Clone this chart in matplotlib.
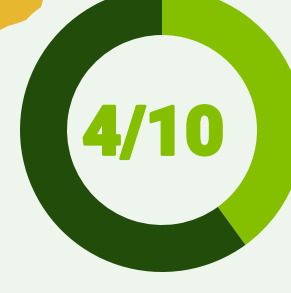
import matplotlib
matplotlib.use('Agg')
import matplotlib.pyplot as plt
import matplotlib.patheffects as pe
from matplotlib.patches import Polygon

values = [4, 6]
colors = ['#85C000', '#224C0A']
label = '4/10'

bg = '#EEF5EC'

fig = plt.figure(figsize=(2.91, 2.93), dpi=100)
fig.patch.set_facecolor(bg)
ax = fig.add_axes([0, 0, 1, 1])
ax.set_facecolor(bg)

# yellow blob in the corner
blob = Polygon([(0, 293), (43, 293), (41, 286), (33, 280), (26, 273), (18, 270),
                (8, 267), (0, 263)], closed=True, facecolor='#E8B730', edgecolor='none')
ax.add_patch(blob)

ax.pie(values, colors=colors, startangle=90, counterclock=False,
       center=(162, 163), radius=142,
       wedgeprops=dict(width=47, edgecolor='none'))

t = ax.text(153, 138.5, label, ha='center', va='baseline', color='#85C000',
            fontsize=49, fontweight='black', family='Roboto')
t.set_path_effects([pe.withStroke(linewidth=2, foreground='#85C000')])

ax.set_xlim(0, 291)
ax.set_ylim(0, 293)
ax.set_aspect('auto')
ax.axis('off')

plt.savefig('out.png', dpi=100, facecolor=bg)
